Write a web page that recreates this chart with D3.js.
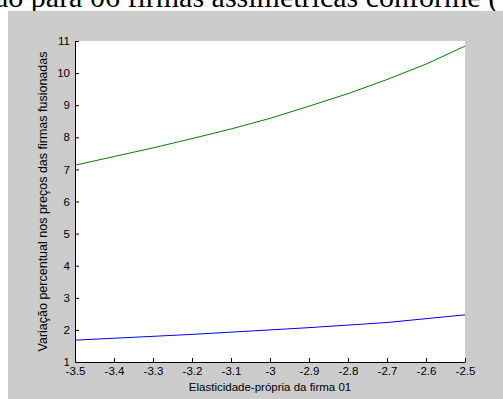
<!DOCTYPE html>
<html>
<head>
<meta charset="utf-8">
<script src="https://cdn.jsdelivr.net/npm/d3@7"></script>
<style>
  body { margin: 0; background: #fff; }
  svg { display: block; }
</style>
</head>
<body>
<div id="chart"></div>
<script>
const width = 503;
const height = 399;
const margin = { top: 41, left: 75, bottom: 37, right: 38 };
const iwidth = width - margin.left - margin.right;
const iheight = height - margin.top - margin.bottom;

// elasticidade-própria da firma 01
const elasticidade = [-3.5, -3.4, -3.3, -3.2, -3.1, -3.0, -2.9, -2.8, -2.7, -2.6, -2.5];
const serieVerde = [7.13, 7.40, 7.67, 7.96, 8.26, 8.59, 8.97, 9.36, 9.80, 10.28, 10.84];
const serieAzul = [1.68, 1.74, 1.80, 1.86, 1.93, 2.00, 2.07, 2.15, 2.23, 2.35, 2.47];
const xTicks = [-3.5, -3.4, -3.3, -3.2, -3.1, -3, -2.9, -2.8, -2.7, -2.6, -2.5];
const yTicks = [1, 2, 3, 4, 5, 6, 7, 8, 9, 10, 11];

const svg = d3.select("#chart").append("svg")
  .attr("width", width)
  .attr("height", height);

// pedaço do texto acima da figura (cortado no topo)
svg.append("text")
  .attr("x", -5)
  .attr("y", 7)
  .style("font-family", "'Liberation Serif', 'Times New Roman', serif")
  .style("font-size", "30px")
  .text("ão para 06 firmas assimétricas conforme (");

svg.append("rect")
  .attr("x", 8).attr("y", 11)
  .attr("width", width - 8).attr("height", height - 11)
  .style("fill", "#cccccc");

const g = svg.append("g")
  .attr("transform", `translate(${margin.left},${margin.top})`);

g.append("rect")
  .attr("width", iwidth).attr("height", iheight)
  .style("fill", "#fff");

const x = d3.scaleLinear().domain([-3.5, -2.5]).range([0, iwidth]);
const y = d3.scaleLinear().domain([1, 11]).range([iheight, 0]);

const line = d3.line()
  .x((d, i) => x(elasticidade[i]))
  .y((d) => y(d));

g.append("path").datum(serieVerde)
  .attr("d", line)
  .style("fill", "none")
  .style("stroke", "#008000")
  .style("stroke-width", 1);

g.append("path").datum(serieAzul)
  .attr("d", line)
  .style("fill", "none")
  .style("stroke", "#0000ff")
  .style("stroke-width", 1);

const xAxis = g.append("g")
  .attr("transform", `translate(0, ${iheight})`)
  .call(d3.axisBottom(x).tickValues(xTicks).tickSize(-4).tickSizeOuter(0)
    .tickPadding(3).tickFormat((d) => String(+d.toFixed(1))));

const yAxis = g.append("g")
  .call(d3.axisLeft(y).tickValues(yTicks).tickSize(-4).tickSizeOuter(0).tickPadding(5));

[xAxis, yAxis].forEach((a) => {
  a.selectAll("path, line").style("stroke", "#000");
  a.selectAll("text")
    .style("font-family", "Arial, 'Liberation Sans', sans-serif")
    .style("font-size", "11.5px")
    .style("fill", "#000");
});
xAxis.selectAll("text").attr("dy", "0.85em");

svg.append("text")
  .attr("x", margin.left + iwidth / 2)
  .attr("y", 391)
  .attr("text-anchor", "middle")
  .style("font-family", "Arial, 'Liberation Sans', sans-serif")
  .style("font-size", "11.5px")
  .text("Elasticidade-própria da firma 01");

svg.append("text")
  .attr("transform", `translate(47, ${margin.top + iheight / 2}) rotate(-90)`)
  .attr("text-anchor", "middle")
  .style("font-family", "Arial, 'Liberation Sans', sans-serif")
  .style("font-size", "12.5px")
  .text("Variação percentual nos preços das firmas fusionadas");
</script>
</body>
</html>
